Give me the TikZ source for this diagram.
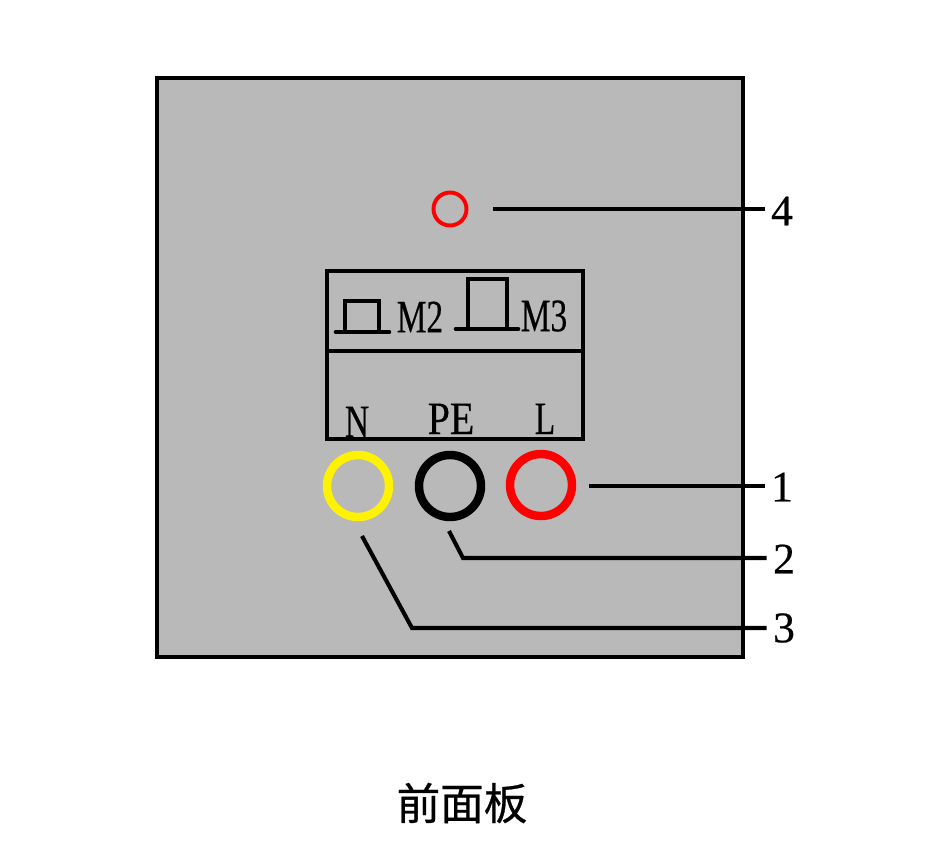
\documentclass[tikz,border=0pt]{standalone}
\usepackage{fontspec}
\setmainfont[FakeBold=0.5]{Liberation Serif}
\newfontfamily\cjk[FakeBold=0.6]{Noto Sans CJK SC}
\usetikzlibrary{positioning}
\definecolor{panelgray}{RGB}{185,185,185}

\begin{document}
\begin{tikzpicture}[
x=0.025cm,y=-0.025cm,
ring/.style={circle,draw,line width=6pt,minimum size=62*0.025cm,inner sep=0pt},
leader/.style={line width=2.9pt},
boxline/.style={line width=3.3pt},
numlabel/.style={font=\fontsize{31}{31}\selectfont,minimum width=0.85cm,inner sep=0pt},
termlabel/.style={font=\fontsize{33}{33}\selectfont,inner sep=0pt},
scale=1]
    \useasboundingbox (0,0) rectangle (927,863);

    % Draw panel
    \draw[line width=2.8pt,fill=panelgray] (157,78) rectangle (743,657);

    % Draw terminal box
    \draw[boxline] (327,271) coordinate (TL) rectangle (583,439) coordinate (BR);
    \draw[boxline] (327,351) coordinate (DL) -- (583,351) coordinate (DR);

    % Switch symbols
    \draw[boxline,line cap=round] (336,332) -- (389,332);
    \draw[boxline] (345,332) |- (379,301) -- (379,332);
    \draw[boxline,line cap=round] (456,329) -- (518,329);
    \draw[boxline] (468,329) |- (507,279) -- (507,329);
    \node[termlabel] (mtwo) at (420,317) {\scalebox{0.72}[1]{M2}};
    \node[termlabel] (mthree) at (544,316) {\scalebox{0.72}[1]{M3}};

    % Terminal names
    \node[termlabel,anchor=base] (nname) at (357,437) {\scalebox{0.72}[1]{N}};
    \node[termlabel,anchor=base] (pename) at (451,434) {\scalebox{0.86}[1]{PE}};
    \node[termlabel,anchor=base] (lname) at (545,434) {\scalebox{0.72}[1]{L}};

    % Terminals and lamp
    \node[ring,draw=yellow] (ringN) at (358,486) {};
    \node[ring,draw=black] (ringPE) at (450,486) {};
    \node[ring,draw=red] (ringL) at (541,485) {};
    \node[circle,draw=red,line width=2.8pt,minimum size=33*0.025cm,inner sep=0pt] (lamp) at (450,209) {};

    % Numbers
    \node[numlabel] (numone) at (782,487) {1};
    \node[numlabel] (numtwo) at (784,559) {2};
    \node[numlabel] (numthree) at (784,628) {3};
    \node[numlabel] (numfour) at (782,211) {4};

    \draw
        (589,486) coordinate (A)
        (449,531) coordinate (B)
        (463,558) coordinate (Bk)
        (362,536) coordinate (C)
        (412,628) coordinate (Ck)
        (493,209) coordinate (D);

    \draw[leader] (A) -- (numone.west |- A);
    \draw[leader] (B) -- (Bk) -- (numtwo.west |- Bk);
    \draw[leader] (C) -- (Ck) -- (numthree.west |- Ck);
    \draw[leader] (D) -- (numfour.west |- D);

    % Caption
    \node[font=\cjk\fontsize{31}{31}\selectfont,inner sep=0pt] (caption) at (462,803) {前面板};
\end{tikzpicture}
\end{document}
